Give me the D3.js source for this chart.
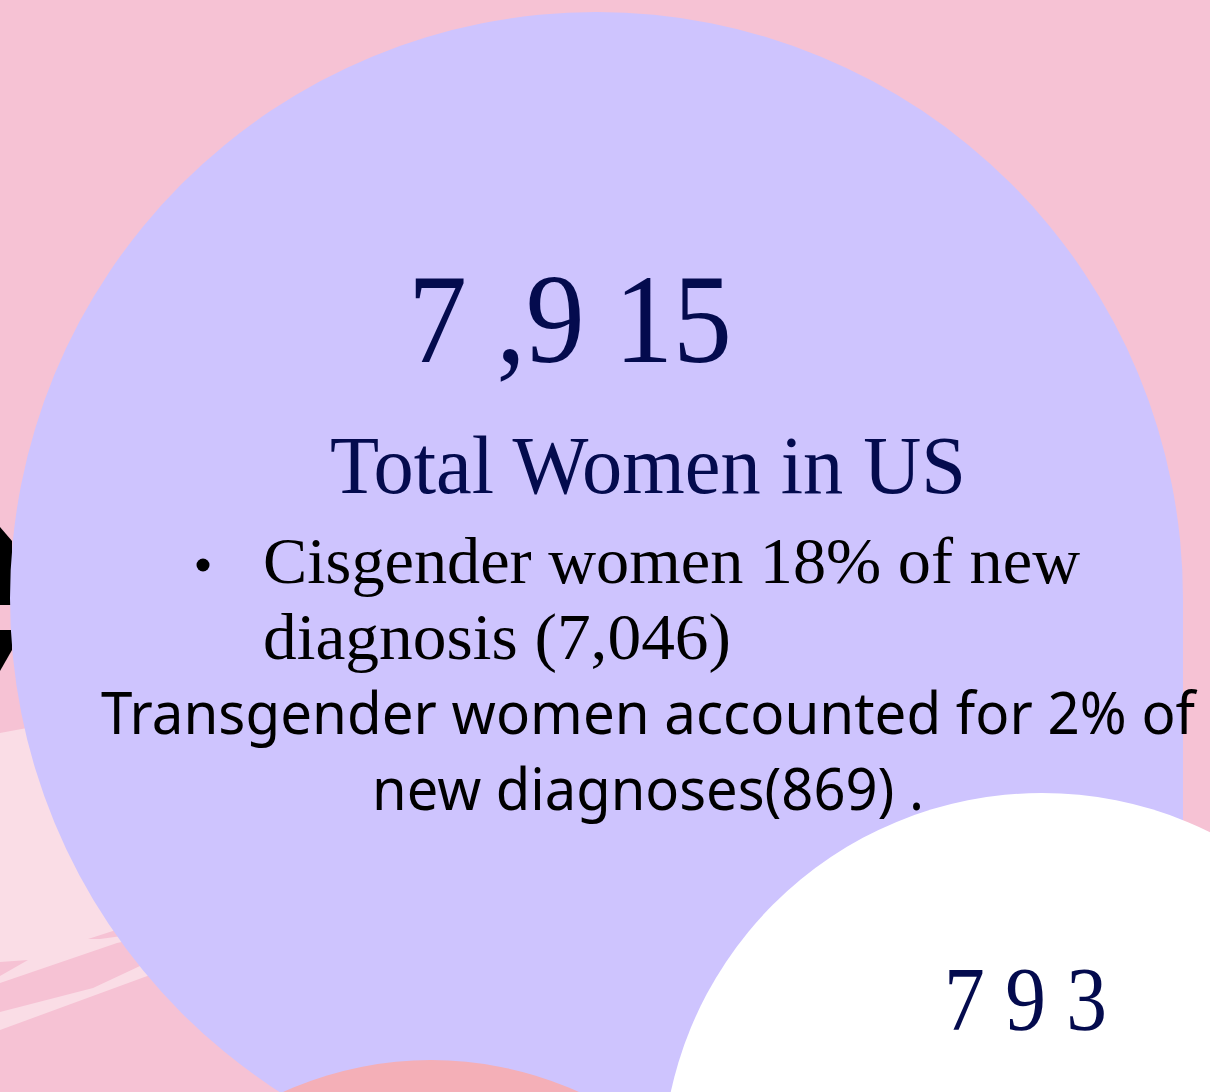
<!DOCTYPE html>
<html lang="en">
<head>
    <meta charset="UTF-8">
    <script src="https://d3js.org/d3.v7.min.js"></script>
    <title>Women in US - new diagnoses</title>
    <style>
        body { margin: 0; background: #f6c2d4; overflow: hidden; }
        svg { display: block; }
    </style>
</head>
<body>
    <script>
        // ---------------- data ----------------
        const headlineLabel = ["7 ,9 15"];
        const headlineTitle = ["Total Women in US"];
        const cisLines = ["Cisgender women 18% of new", "diagnosis (7,046)"];
        const transLines = ["Transgender women accounted for 2% of", "new diagnoses(869) ."];
        const cornerLabel = ["7 9 3"];

        // ---------------- setup ----------------
        const W = 1210, H = 1092;
        const navy = "#040b4e";
        const svg = d3.select("body").append("svg")
            .attr("width", W)
            .attr("height", H);

        // pink background
        svg.append("rect").attr("width", W).attr("height", H).attr("fill", "#f6c2d4");

        // light streaks on the bottom left
        const poly = pts => "M" + pts.map(p => p.join(",")).join("L") + "Z";
        const light = "#fadde6", pink = "#f6c2d4";
        svg.append("path").attr("fill", light)
            .attr("d", poly([[0, 733], [420, 655], [420, 880], [117, 943], [0, 983]]));
        svg.append("path").attr("fill", pink)
            .attr("d", poly([[0, 962], [28, 960], [0, 976]]));
        svg.append("path").attr("fill", pink)
            .attr("d", poly([[88, 939], [116, 930], [122, 936], [100, 939]]));
        svg.append("path").attr("fill", light)
            .attr("d", poly([[0, 1012], [93, 988], [140, 966], [170, 955], [150, 975], [0, 1030]]));

        // black shape peeking out on the left
        svg.append("path").attr("fill", "#000")
            .attr("d", poly([[0, 527], [12, 541], [12, 605], [0, 605]]));
        svg.append("path").attr("fill", "#000")
            .attr("d", poly([[0, 630], [12, 630], [12, 650], [0, 671]]));

        // lavender bubble: circle with a square bottom-right corner
        const cx = 596.5, cy = 598.5, r = 586.5;
        const bub = d3.path();
        bub.moveTo(cx - r, cy);
        bub.arc(cx, cy, r, Math.PI, 2 * Math.PI);
        bub.lineTo(cx + r, cy + r);
        bub.lineTo(cx, cy + r);
        bub.arc(cx, cy, r, Math.PI / 2, Math.PI);
        bub.closePath();
        svg.append("path").attr("d", bub.toString()).attr("fill", "#cec4fe");

        // salmon circle at the bottom
        svg.append("circle").attr("cx", 431).attr("cy", 1418).attr("r", 358).attr("fill", "#f4afb7");

        // white circle bottom right
        svg.append("circle").attr("cx", 1042).attr("cy", 1173).attr("r", 380).attr("fill", "#ffffff");

        // ---------------- texts ----------------
        const serif = "'Liberation Serif', 'Times New Roman', serif";
        const sans = "'Noto Sans', 'Open Sans', sans-serif";

        svg.selectAll(".headline").data(headlineLabel).enter().append("text")
            .attr("x", 408).attr("y", 362)
            .attr("font-family", serif).attr("font-size", 128)
            .attr("fill", navy)
            .attr("textLength", 324).attr("lengthAdjust", "spacingAndGlyphs")
            .text(d => d);

        svg.selectAll(".title").data(headlineTitle).enter().append("text")
            .attr("x", 330).attr("y", 493)
            .attr("font-family", serif).attr("font-size", 82)
            .attr("fill", navy)
            .attr("textLength", 636).attr("lengthAdjust", "spacingAndGlyphs")
            .text(d => d);

        // bullet
        svg.append("circle")
            .attr("cx", 203).attr("cy", 565).attr("r", 6.5)
            .attr("fill", "#000");

        const cisWidths = [817, 468];
        svg.selectAll(".cis").data(cisLines).enter().append("text")
            .attr("x", 263).attr("y", (d, i) => 583 + i * 76)
            .attr("font-family", serif).attr("font-size", 66)
            .attr("fill", "#000")
            .attr("textLength", (d, i) => cisWidths[i]).attr("lengthAdjust", "spacingAndGlyphs")
            .text(d => d);

        const transWidths = [1094, 552];
        svg.selectAll(".trans").data(transLines).enter().append("text")
            .attr("x", 648).attr("y", (d, i) => 734 + i * 76)
            .attr("text-anchor", "middle")
            .attr("font-family", sans).attr("font-size", 58)
            .attr("fill", "#000")
            .attr("textLength", (d, i) => transWidths[i]).attr("lengthAdjust", "spacingAndGlyphs")
            .text(d => d);

        svg.selectAll(".corner").data(cornerLabel).enter().append("text")
            .attr("x", 944).attr("y", 1030)
            .attr("font-family", serif).attr("font-size", 90)
            .attr("fill", navy)
            .attr("textLength", 163).attr("lengthAdjust", "spacingAndGlyphs")
            .text(d => d);
    </script>
</body>
</html>
